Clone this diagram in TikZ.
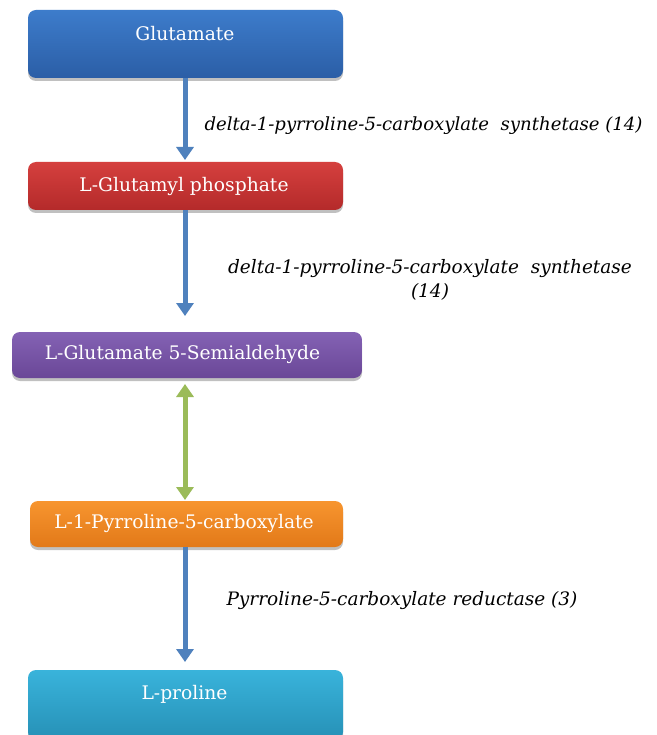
\documentclass[tikz,border=0pt]{standalone}
\usepackage{fontspec}
\setmainfont{DejaVu Serif}
\usetikzlibrary{arrows.meta,shadows}
\definecolor{bluetop}{HTML}{3D7CCB}
\definecolor{bluebot}{HTML}{2B5EA6}
\definecolor{redtop}{HTML}{D5403E}
\definecolor{redbot}{HTML}{B42A2A}
\definecolor{purtop}{HTML}{8462B4}
\definecolor{purbot}{HTML}{6A4797}
\definecolor{ortop}{HTML}{F7952F}
\definecolor{orbot}{HTML}{E27918}
\definecolor{cytop}{HTML}{39B3DB}
\definecolor{cybot}{HTML}{2690B6}
\definecolor{arrblue}{HTML}{4F81BD}
\definecolor{arrgreen}{HTML}{9BBB59}
\tikzset{
  box/.style={rounded corners=8pt, draw=none,
    drop shadow={shadow xshift=0pt, shadow yshift=-3pt, opacity=0.35, fill=black!70}},
  boxtext/.style={text=white, font=\fontsize{18.7}{22}\selectfont},
  enz/.style={font=\fontsize{18.5}{24}\selectfont\itshape, align=center},
  flow/.style={draw=arrblue, line width=5pt, -{Triangle[width=17pt,length=13pt]}},
  rev/.style={draw=arrgreen, line width=5pt, {Triangle[width=17pt,length=13pt]}-{Triangle[width=17pt,length=13pt]}}
}
\begin{document}
\begin{tikzpicture}[x=1pt,y=-1pt]
\clip (0,0) rectangle (656,735);
\fill[white] (0,0) rectangle (656,735);
% boxes
\path[box, top color=bluetop, bottom color=bluebot] (28,10) rectangle (343,78);
\node[inner sep=0, minimum width=315pt, minimum height=68pt] (glu) at (185.5,44) {};
\node[boxtext] (glut) at (185,34) {Glutamate};

\path[box, top color=redtop, bottom color=redbot] (28,162) rectangle (343,210);
\node[inner sep=0, minimum width=315pt, minimum height=48pt] (gp) at (185.5,186) {};
\node[boxtext] (gpt) at (184,186) {L-Glutamyl phosphate};

\path[box, top color=purtop, bottom color=purbot] (12,332) rectangle (362,378);
\node[inner sep=0, minimum width=350pt, minimum height=46pt] (gsa) at (187,355) {};
\node[boxtext] (gsat) at (182.5,354) {L-Glutamate 5-Semialdehyde};

\path[box, top color=ortop, bottom color=orbot] (30,501) rectangle (343,547);
\node[inner sep=0, minimum width=313pt, minimum height=46pt] (p5c) at (186.5,524) {};
\node[boxtext] (p5ct) at (184,523) {L-1-Pyrroline-5-carboxylate};

\path[box, top color=cytop, bottom color=cybot] (28,670) rectangle (343,740);
\node[inner sep=0, minimum width=315pt, minimum height=70pt] (pro) at (185.5,705) {};
\node[boxtext] (prot) at (184.5,694) {L-proline};

% connectors
\coordinate (a1e) at (185,160);
\draw[flow] (glu.south -| a1e) -- (a1e);
\coordinate (a2e) at (185,316);
\draw[flow] (gp.south -| a2e) -- (a2e);
\coordinate (g1) at (185,384);
\coordinate (g2) at (185,500);
\draw[rev] (g1) -- (g2);
\coordinate (a3e) at (185,662);
\draw[flow] (p5c.south -| a3e) -- (a3e);

% enzyme labels
\node[enz, font=\fontsize{18.1}{24}\selectfont\itshape, anchor=west] (e1) at (201,126) {delta-1-pyrroline-5-carboxylate\ \ synthetase (14)};
\node[enz] (e2) at (430,280) {delta-1-pyrroline-5-carboxylate\ \ synthetase\\(14)};
\node[enz, anchor=west] (e3) at (223,601) {Pyrroline-5-carboxylate reductase (3)};
\end{tikzpicture}
\end{document}
